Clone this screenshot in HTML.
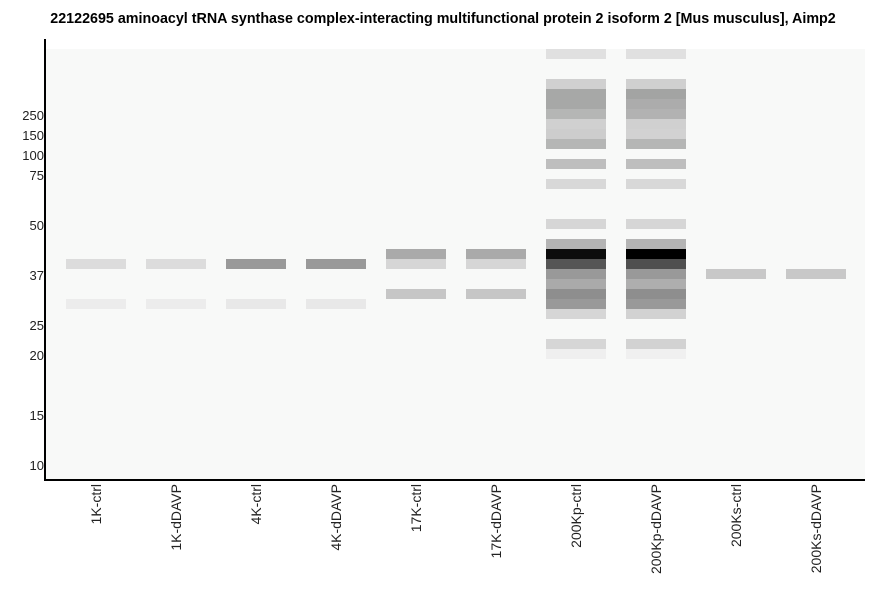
<!DOCTYPE html><html><head><style>
body{margin:0;width:886px;height:595px;background:#fff;font-family:"Liberation Sans",sans-serif;position:relative;overflow:hidden}
.t{position:absolute;top:11px;left:0;width:886px;text-align:center;font-weight:bold;font-size:14.3px;color:#000}
.plot{position:absolute;left:46px;top:49px;width:819px;height:430px;background:#f8f9f8}
.ax{position:absolute;background:#000}
.yl{position:absolute;right:842px;font-size:13px;color:#222;line-height:14px}
.b{position:absolute;width:60px;height:10px}
.xl{position:absolute;top:484px;font-size:14px;color:#222;writing-mode:vertical-rl;transform:rotate(180deg);white-space:nowrap;line-height:14px}
</style></head><body>
<div class="t">22122695 aminoacyl tRNA synthase complex-interacting multifunctional protein 2 isoform 2 [Mus musculus], Aimp2</div>
<div class="plot"></div>
<div class="ax" style="left:44px;top:39px;width:2px;height:442px"></div>
<div class="ax" style="left:44px;top:479px;width:821px;height:2px"></div>
<div class="yl" style="top:109px">250</div>
<div class="yl" style="top:129px">150</div>
<div class="yl" style="top:149px">100</div>
<div class="yl" style="top:169px">75</div>
<div class="yl" style="top:219px">50</div>
<div class="yl" style="top:269px">37</div>
<div class="yl" style="top:319px">25</div>
<div class="yl" style="top:349px">20</div>
<div class="yl" style="top:409px">15</div>
<div class="yl" style="top:459px">10</div>
<div id="bands"></div>
<script>
var L=[
[[259,'#dcdcdc'],[299,'#ececec']],
[[259,'#dcdcdc'],[299,'#ececec']],
[[259,'#999'],[299,'#e8e8e8']],
[[259,'#999'],[299,'#e8e8e8']],
[[249,'#aaa'],[259,'#d6d6d6'],[289,'#c6c6c6']],
[[249,'#aaa'],[259,'#d6d6d6'],[289,'#c6c6c6']],
[[49,'#e0e0e0'],[79,'#d0d0d0'],[89,'#a7a8a7'],[99,'#a7a8a7'],[109,'#b5b6b5'],[119,'#d0d0d0'],[129,'#cdcdcd'],[139,'#b5b6b5'],[159,'#bebebe'],[179,'#d8d8d8'],[219,'#d6d6d6'],[239,'#b4b4b4'],[249,'#0c0c0c'],[259,'#555'],[269,'#999'],[279,'#aaa'],[289,'#8e8e8e'],[299,'#999'],[309,'#d6d6d6'],[339,'#d6d6d6'],[349,'#efefef']],
[[49,'#e0e0e0'],[79,'#d0d0d0'],[89,'#a3a4a3'],[99,'#acacac'],[109,'#b2b2b2'],[119,'#d0d0d0'],[129,'#d2d2d2'],[139,'#b5b6b5'],[159,'#bebebe'],[179,'#d8d8d8'],[219,'#d6d6d6'],[239,'#b4b4b4'],[249,'#000'],[259,'#4f4f4f'],[269,'#999'],[279,'#aeaeae'],[289,'#8e8e8e'],[299,'#999'],[309,'#d2d2d2'],[339,'#d2d2d2'],[349,'#f0f0f0']],
[[269,'#c8c8c8']],
[[269,'#c8c8c8']]];
var names=['1K-ctrl','1K-dDAVP','4K-ctrl','4K-dDAVP','17K-ctrl','17K-dDAVP','200Kp-ctrl','200Kp-dDAVP','200Ks-ctrl','200Ks-dDAVP'];
var h='';
L.forEach(function(l,i){var x=66+80*i;l.forEach(function(b){h+='<div class="b" style="left:'+x+'px;top:'+b[0]+'px;background:'+b[1]+'"></div>'});
h+='<div class="xl" style="left:'+(x+23)+'px">'+names[i]+'</div>';});
document.getElementById('bands').innerHTML=h;
</script>
</body></html>
